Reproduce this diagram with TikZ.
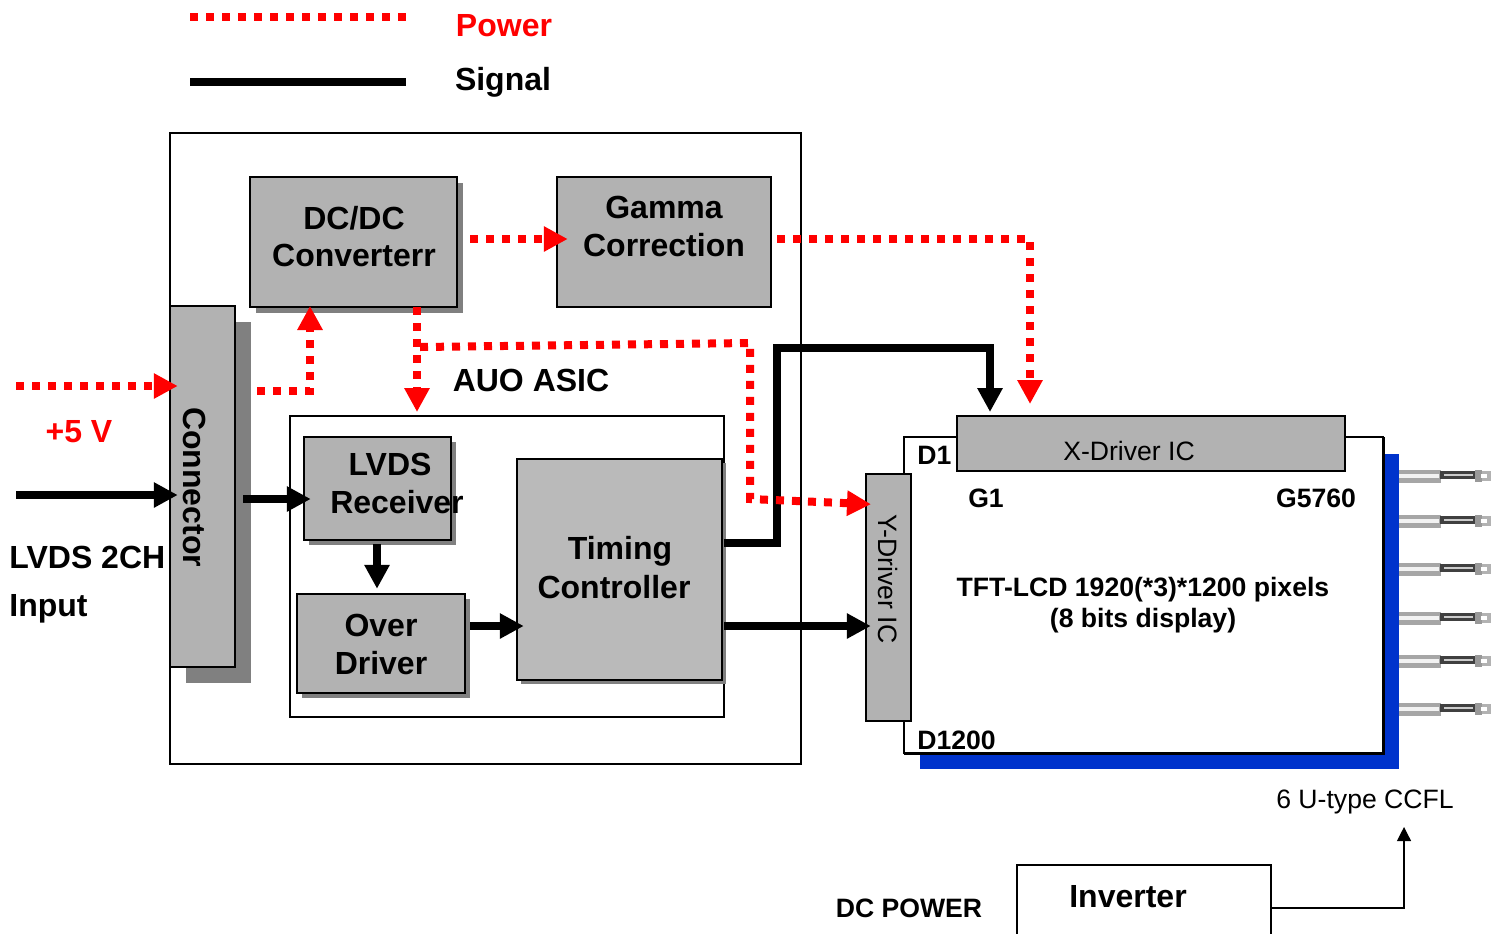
\documentclass[tikz,border=0pt]{standalone}
\usepackage{fontspec}
\setmainfont{Liberation Sans}
\usetikzlibrary{arrows.meta,shadows}

\definecolor{boxgray}{RGB}{178,178,178}
\definecolor{timinggray}{RGB}{186,186,186}
\definecolor{shadegray}{RGB}{128,128,128}
\definecolor{lampblue}{RGB}{0,51,204}

\tikzset{
    boxsize/.style 2 args={minimum width=#1*0.5pt, minimum height=#2*0.5pt, inner sep=0pt},
    plainbox/.style={draw=black, line width=1pt, fill=white},
    graybox/.style={draw=black, line width=1.25pt, fill=boxgray},
    castshadow/.style={drop shadow={shadow xshift=#1*0.5pt, shadow yshift=-#1*0.5pt, fill=shadegray, opacity=1}},
    bigtext/.style={anchor=base, font=\fontsize{16}{19}\selectfont\bfseries, inner sep=0pt},
    smalltext/.style={anchor=base, font=\fontsize{13.3}{16}\selectfont\bfseries, inner sep=0pt},
    thintext/.style={anchor=base, font=\fontsize{13.3}{16}\selectfont, inner sep=0pt},
    powerline/.style={draw=red, line width=4pt, dash pattern=on 4pt off 4pt, -{Triangle[length=12pt,width=12pt,fill=red]}},
    signalline/.style={draw=black, line width=4pt, -{Triangle[length=12pt,width=12pt]}},
    thinline/.style={draw=black, line width=0.6pt, -{Triangle[length=7pt,width=7pt]}}
}

\begin{document}
\begin{tikzpicture}[x=0.5pt, y=-0.5pt]
    \clip (0,0) rectangle (1491,933);

    % Legend
    \coordinate (legpa) at (190,17);
    \coordinate (legpb) at (407,17);
    \coordinate (legsa) at (190,82);
    \coordinate (legsb) at (406,82);
    \draw[draw=red, line width=4pt, dash pattern=on 4pt off 4pt] (legpa) -- (legpb);
    \draw[draw=black, line width=4pt] (legsa) -- (legsb);
    \node[bigtext, text=red] (legpower) at (504,36) {Power};
    \node[bigtext] (legsignal) at (503,90) {Signal};

    % Main board and ASIC frame
    \node[plainbox, boxsize={631}{631}] (board) at (485.5,448.5) {};
    \node[plainbox, boxsize={434}{301}] (asic) at (507,566.5) {};
    \node[bigtext] (asictxt) at (531,391) {AUO ASIC};

    % Blocks on the board
    \node[graybox, boxsize={207}{130}, castshadow=6] (dcdc) at (353.5,242) {};
    \node[graybox, boxsize={214}{130}] (gamma) at (664,242) {};
    \node[graybox, boxsize={65}{361}, castshadow=16] (conn) at (202.5,486.5) {};
    \node[graybox, boxsize={147}{103}, castshadow=5] (lvds) at (377.5,488.5) {};
    \node[graybox, boxsize={168}{99}, castshadow=5] (over) at (381,643.5) {};
    \node[graybox, fill=timinggray, boxsize={205}{221}, castshadow=4] (timing) at (619.5,569.5) {};

    % Block texts
    \node[bigtext] (dcdctxt) at (354,229) {DC/DC};
    \node[bigtext] (dcdctxtb) at (354,266) {Converterr};
    \node[bigtext] (gammatxt) at (664,218) {Gamma};
    \node[bigtext] (gammatxtb) at (664,256) {Correction};
    \node[bigtext] (lvdstxt) at (390,475) {LVDS};
    \node[bigtext] (lvdstxtb) at (397,513) {Receiver};
    \node[bigtext] (overtxt) at (381,636) {Over};
    \node[bigtext] (overtxtb) at (381,674) {Driver};
    \node[bigtext] (timingtxt) at (620,559) {Timing};
    \node[bigtext] (timingtxtb) at (614,598) {Controller};
    \node[bigtext, anchor=center, rotate=-90] (conntxt) at (195,487) {Connector};

    % Panel with drivers
    \node[plainbox, line width=1.25pt, boxsize={479}{316}] (panel) at (1143.5,595) {};
    \fill[lampblue] (920,753) rectangle (1399,769);
    \fill[lampblue] (1383,454) rectangle (1399,769);
    \node[smalltext, anchor=base west] (dtop) at (917,464) {D1};
    \node[smalltext, anchor=base west] (dbot) at (917,749) {D1200};
    \draw[black, line width=1.5pt] (904,753) -- (1383,753) -- (1383,437);
    \node[graybox, boxsize={388}{55}] (xdrv) at (1151,443.5) {};
    \node[graybox, boxsize={45}{247}] (ydrv) at (888.5,597.5) {};
    \node[thintext] (xdrvtxt) at (1129,460) {X-Driver IC};
    \node[thintext, anchor=center, rotate=-90] (ydrvtxt) at (888,579) {Y-Driver IC};
    \node[smalltext] (gleft) at (986,507) {G1};
    \node[smalltext] (gright) at (1316,507) {G5760};
    \node[smalltext] (pixtxt) at (1143,596) {TFT-LCD 1920(*3)*1200 pixels};
    \node[smalltext] (pixtxtb) at (1143,627) {(8 bits display)};

    % CCFL lamps
    \foreach \y in {476, 521, 569, 618, 661, 709} {
        \fill[gray!70] (1399,\y-6) rectangle (1441,\y+7);
        \fill[white!90!gray] (1399,\y-2) rectangle (1439,\y+2);
        \fill[black!75] (1440,\y-5) rectangle (1475,\y+3);
        \fill[white!60!gray] (1444,\y-2) rectangle (1473,\y);
        \fill[gray!80] (1475,\y-6) rectangle (1482,\y+6);
        \fill[gray!60] (1482,\y-5) rectangle (1491,\y+5);
        \fill[white] (1481,\y-2) rectangle (1487,\y+2);
    }
    \node[thintext] (ccfltxt) at (1365,808) {6 U-type CCFL};

    % Inverter
    \node[plainbox, line width=1.25pt, boxsize={254}{86}] (inv) at (1144,908) {};
    \node[bigtext] (invtxt) at (1128,907) {Inverter};
    \node[smalltext] (dctxt) at (909,917) {DC POWER};
    \coordinate (ccflin) at (1404,827);
    \draw[thinline] (inv.east) -| (ccflin);

    % Outside labels
    \node[bigtext, text=red] (fivetxt) at (79,442) {+5 V};
    \node[bigtext, anchor=base west] (lvdsin) at (9,568) {LVDS 2CH};
    \node[bigtext, anchor=base west] (lvdsinb) at (9,616) {Input};

    % Signal arrows
    \coordinate (sigin) at (16,495);
    \coordinate (sigconn) at (243,499);
    \coordinate (sigover) at (470,626);
    \coordinate (siglvds) at (377,544);
    \coordinate (sigt) at (724,543);
    \coordinate (sigtb) at (724,626);
    \coordinate (sigup) at (777,348);
    \coordinate (sigx) at (990,412);
    \draw[signalline, shorten >=-4.5pt] (sigin) -- (sigin -| conn.west);
    \draw[signalline, shorten >=-4pt] (sigconn) -- (sigconn -| lvds.west);
    \draw[signalline, shorten >=2pt] (siglvds) -- (siglvds |- over.north);
    \draw[signalline, shorten >=-4pt] (sigover) -- (sigover -| timing.west);
    \draw[signalline, shorten >=-3pt] (sigtb) -- (sigtb -| ydrv.west);
    \draw[signalline] (sigt) -| (sigup) -| (sigx);

    % Power arrows
    \coordinate (pwrin) at (16,386);
    \coordinate (pwrconn) at (257,391);
    \coordinate (pwrdc) at (310,306);
    \coordinate (pwrdown) at (417,307);
    \coordinate (pwrasic) at (417,412);
    \coordinate (pwrgamma) at (470,239);
    \coordinate (pwrout) at (777,239);
    \coordinate (pwrx) at (1030,404);
    \coordinate (pwrbr) at (420,347);
    \coordinate (pwrbrb) at (750,343);
    \coordinate (pwrbrc) at (750,499);
    \coordinate (pwry) at (866,504);
    \draw[powerline, shorten >=-4.5pt] (pwrin) -- (pwrin -| conn.west);
    \draw[powerline] (pwrconn) -| (pwrdc);
    \draw[powerline] (pwrdown) -- (pwrasic);
    \draw[powerline, shorten >=-6pt] (pwrgamma) -- (pwrgamma -| gamma.west);
    \draw[powerline] (pwrout) -| (pwrx);
    \draw[powerline, shorten >=-2.5pt] (pwrbr) -- (pwrbrb) -- (pwrbrc) -- (pwry);
\end{tikzpicture}
\end{document}
